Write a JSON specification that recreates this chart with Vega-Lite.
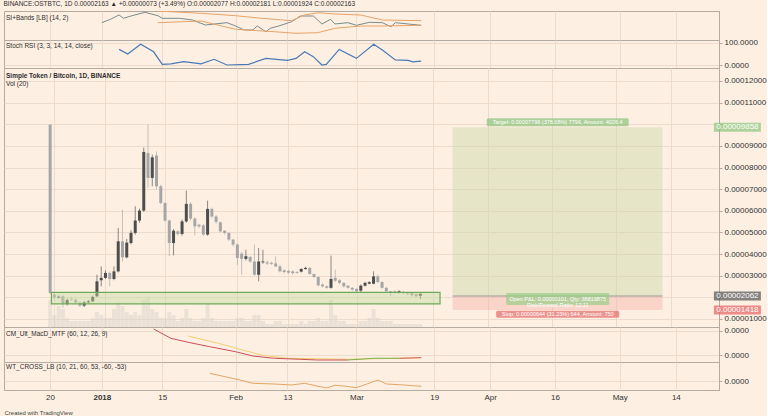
{
  "$schema": "https://vega.github.io/schema/vega-lite/v6.json",
  "background": "#fdf0e3",
  "padding": {"left": 3, "top": 1, "right": 0, "bottom": 0},
  "spacing": 0,
  "bounds": "flush",
  "title": {"text": "BINANCE:OSTBTC, 1D  0.00002163 ▲ +0.00000073 (+3.49%)  O:0.00002077  H:0.00002181  L:0.00001924  C:0.00002163", "offset": 3, "fontSize": 6.5, "anchor": "start", "color": "#2e2e2e"},
  "resolve": {"scale": {"y": "independent", "color": "independent"}},
  "config": {
    "view": {"stroke": "#b4aba3", "strokeWidth": 1},
    "axis": {"gridColor": "#eddccd", "gridWidth": 1, "domainColor": "#b4aba3", "tickColor": "#b4aba3", "labelColor": "#333333", "labelFont": "Liberation Sans", "labelFontSize": 8, "titleFont": "Liberation Sans"},
    "axisY": {"labelOverlap": false, "tickSize": 3, "labelPadding": 2},
    "title": {"font": "Liberation Sans", "fontSize": 6.5, "fontWeight": "normal", "color": "#2e2e2e", "anchor": "start", "subtitleFont": "Liberation Sans", "subtitleFontSize": 6.5, "subtitleColor": "#2e2e2e"},
    "text": {"font": "Liberation Sans"}
  },
  "datasets": {
    "candles": [
      {"date": "2017-12-19", "o": 9.98e-5, "h": 10.0e-5, "l": 2.15e-5, "c": 2.20e-5, "v": 9},
      {"date": "2017-12-20", "o": 2.12e-5, "h": 2.18e-5, "l": 1.92e-5, "c": 1.99e-5, "v": 4},
      {"date": "2017-12-21", "o": 1.99e-5, "h": 2.08e-5, "l": 1.95e-5, "c": 2.03e-5, "v": 7},
      {"date": "2017-12-22", "o": 2.05e-5, "h": 2.10e-5, "l": 1.52e-5, "c": 1.70e-5, "v": 6},
      {"date": "2017-12-23", "o": 1.70e-5, "h": 1.95e-5, "l": 1.62e-5, "c": 1.87e-5, "v": 3},
      {"date": "2017-12-24", "o": 1.94e-5, "h": 2.00e-5, "l": 1.85e-5, "c": 1.90e-5, "v": 2},
      {"date": "2017-12-25", "o": 1.89e-5, "h": 1.95e-5, "l": 1.70e-5, "c": 1.76e-5, "v": 2},
      {"date": "2017-12-26", "o": 1.76e-5, "h": 1.80e-5, "l": 1.55e-5, "c": 1.62e-5, "v": 2},
      {"date": "2017-12-27", "o": 1.62e-5, "h": 1.82e-5, "l": 1.55e-5, "c": 1.77e-5, "v": 2},
      {"date": "2017-12-28", "o": 1.77e-5, "h": 1.88e-5, "l": 1.72e-5, "c": 1.82e-5, "v": 2},
      {"date": "2017-12-29", "o": 1.82e-5, "h": 2.08e-5, "l": 1.78e-5, "c": 2.02e-5, "v": 3},
      {"date": "2017-12-30", "o": 2.05e-5, "h": 3.05e-5, "l": 2.00e-5, "c": 2.74e-5, "v": 5},
      {"date": "2017-12-31", "o": 2.79e-5, "h": 3.43e-5, "l": 2.51e-5, "c": 2.90e-5, "v": 4},
      {"date": "2018-01-01", "o": 2.90e-5, "h": 3.25e-5, "l": 2.85e-5, "c": 3.13e-5, "v": 3},
      {"date": "2018-01-02", "o": 3.13e-5, "h": 3.20e-5, "l": 2.51e-5, "c": 2.85e-5, "v": 3},
      {"date": "2018-01-03", "o": 2.85e-5, "h": 3.43e-5, "l": 2.79e-5, "c": 3.20e-5, "v": 6},
      {"date": "2018-01-04", "o": 3.20e-5, "h": 5.21e-5, "l": 3.15e-5, "c": 4.59e-5, "v": 8},
      {"date": "2018-01-05", "o": 4.59e-5, "h": 6.05e-5, "l": 3.66e-5, "c": 3.85e-5, "v": 7},
      {"date": "2018-01-06", "o": 3.85e-5, "h": 4.70e-5, "l": 3.80e-5, "c": 4.53e-5, "v": 5},
      {"date": "2018-01-07", "o": 4.51e-5, "h": 5.10e-5, "l": 4.45e-5, "c": 4.98e-5, "v": 4},
      {"date": "2018-01-08", "o": 4.98e-5, "h": 6.21e-5, "l": 4.90e-5, "c": 5.55e-5, "v": 5},
      {"date": "2018-01-09", "o": 5.55e-5, "h": 6.10e-5, "l": 5.45e-5, "c": 6.01e-5, "v": 4},
      {"date": "2018-01-10", "o": 6.01e-5, "h": 8.92e-5, "l": 5.95e-5, "c": 8.72e-5, "v": 9},
      {"date": "2018-01-11", "o": 8.67e-5, "h": 9.98e-5, "l": 7.07e-5, "c": 7.52e-5, "v": 10},
      {"date": "2018-01-12", "o": 7.52e-5, "h": 8.60e-5, "l": 7.13e-5, "c": 8.47e-5, "v": 6},
      {"date": "2018-01-13", "o": 8.56e-5, "h": 8.75e-5, "l": 7.00e-5, "c": 7.13e-5, "v": 5},
      {"date": "2018-01-14", "o": 7.13e-5, "h": 7.20e-5, "l": 6.30e-5, "c": 6.36e-5, "v": 3},
      {"date": "2018-01-15", "o": 6.36e-5, "h": 6.40e-5, "l": 5.50e-5, "c": 5.55e-5, "v": 3},
      {"date": "2018-01-16", "o": 5.55e-5, "h": 5.60e-5, "l": 3.90e-5, "c": 4.51e-5, "v": 5},
      {"date": "2018-01-17", "o": 4.51e-5, "h": 5.15e-5, "l": 3.94e-5, "c": 5.08e-5, "v": 4},
      {"date": "2018-01-18", "o": 5.05e-5, "h": 5.10e-5, "l": 4.85e-5, "c": 4.93e-5, "v": 2},
      {"date": "2018-01-19", "o": 4.93e-5, "h": 5.60e-5, "l": 4.85e-5, "c": 5.51e-5, "v": 3},
      {"date": "2018-01-20", "o": 5.51e-5, "h": 6.93e-5, "l": 5.45e-5, "c": 6.32e-5, "v": 6},
      {"date": "2018-01-21", "o": 6.32e-5, "h": 6.40e-5, "l": 5.55e-5, "c": 5.64e-5, "v": 3},
      {"date": "2018-01-22", "o": 5.64e-5, "h": 5.70e-5, "l": 4.87e-5, "c": 5.28e-5, "v": 2},
      {"date": "2018-01-23", "o": 5.36e-5, "h": 5.40e-5, "l": 5.20e-5, "c": 5.28e-5, "v": 2},
      {"date": "2018-01-24", "o": 5.33e-5, "h": 5.40e-5, "l": 4.85e-5, "c": 4.90e-5, "v": 3},
      {"date": "2018-01-25", "o": 4.90e-5, "h": 6.47e-5, "l": 4.85e-5, "c": 6.09e-5, "v": 8},
      {"date": "2018-01-26", "o": 6.09e-5, "h": 6.15e-5, "l": 5.65e-5, "c": 5.74e-5, "v": 3},
      {"date": "2018-01-27", "o": 5.74e-5, "h": 5.80e-5, "l": 5.40e-5, "c": 5.49e-5, "v": 2},
      {"date": "2018-01-28", "o": 5.47e-5, "h": 5.50e-5, "l": 5.00e-5, "c": 5.05e-5, "v": 2},
      {"date": "2018-01-29", "o": 5.08e-5, "h": 5.10e-5, "l": 4.90e-5, "c": 4.98e-5, "v": 2},
      {"date": "2018-01-30", "o": 4.98e-5, "h": 5.00e-5, "l": 4.60e-5, "c": 4.67e-5, "v": 2},
      {"date": "2018-01-31", "o": 4.67e-5, "h": 4.70e-5, "l": 4.35e-5, "c": 4.44e-5, "v": 2},
      {"date": "2018-02-01", "o": 4.44e-5, "h": 4.50e-5, "l": 3.50e-5, "c": 3.82e-5, "v": 3},
      {"date": "2018-02-02", "o": 4.02e-5, "h": 4.10e-5, "l": 3.05e-5, "c": 3.78e-5, "v": 3},
      {"date": "2018-02-03", "o": 3.78e-5, "h": 4.20e-5, "l": 3.70e-5, "c": 3.90e-5, "v": 2},
      {"date": "2018-02-04", "o": 3.87e-5, "h": 3.90e-5, "l": 3.60e-5, "c": 3.66e-5, "v": 2},
      {"date": "2018-02-05", "o": 3.66e-5, "h": 4.44e-5, "l": 3.00e-5, "c": 3.05e-5, "v": 4},
      {"date": "2018-02-06", "o": 3.05e-5, "h": 4.28e-5, "l": 2.74e-5, "c": 3.66e-5, "v": 4},
      {"date": "2018-02-07", "o": 3.62e-5, "h": 4.20e-5, "l": 3.55e-5, "c": 3.66e-5, "v": 2},
      {"date": "2018-02-08", "o": 3.62e-5, "h": 3.70e-5, "l": 3.50e-5, "c": 3.56e-5, "v": 1},
      {"date": "2018-02-09", "o": 3.60e-5, "h": 3.65e-5, "l": 3.50e-5, "c": 3.55e-5, "v": 1},
      {"date": "2018-02-10", "o": 3.57e-5, "h": 3.90e-5, "l": 3.40e-5, "c": 3.43e-5, "v": 2},
      {"date": "2018-02-11", "o": 3.43e-5, "h": 3.50e-5, "l": 3.15e-5, "c": 3.20e-5, "v": 2},
      {"date": "2018-02-12", "o": 3.25e-5, "h": 3.30e-5, "l": 3.10e-5, "c": 3.17e-5, "v": 1},
      {"date": "2018-02-13", "o": 3.22e-5, "h": 3.28e-5, "l": 3.10e-5, "c": 3.14e-5, "v": 1},
      {"date": "2018-02-14", "o": 3.20e-5, "h": 3.25e-5, "l": 3.05e-5, "c": 3.12e-5, "v": 1},
      {"date": "2018-02-15", "o": 3.17e-5, "h": 3.22e-5, "l": 3.10e-5, "c": 3.13e-5, "v": 1},
      {"date": "2018-02-16", "o": 3.19e-5, "h": 3.35e-5, "l": 3.15e-5, "c": 3.31e-5, "v": 2},
      {"date": "2018-02-17", "o": 3.31e-5, "h": 3.42e-5, "l": 3.28e-5, "c": 3.36e-5, "v": 1},
      {"date": "2018-02-18", "o": 3.36e-5, "h": 3.40e-5, "l": 3.05e-5, "c": 3.08e-5, "v": 2},
      {"date": "2018-02-19", "o": 3.08e-5, "h": 3.10e-5, "l": 2.90e-5, "c": 2.94e-5, "v": 2},
      {"date": "2018-02-20", "o": 2.94e-5, "h": 2.97e-5, "l": 2.50e-5, "c": 2.56e-5, "v": 3},
      {"date": "2018-02-21", "o": 2.59e-5, "h": 2.65e-5, "l": 2.45e-5, "c": 2.51e-5, "v": 2},
      {"date": "2018-02-22", "o": 2.51e-5, "h": 2.55e-5, "l": 2.40e-5, "c": 2.44e-5, "v": 2},
      {"date": "2018-02-23", "o": 2.44e-5, "h": 3.93e-5, "l": 2.40e-5, "c": 2.85e-5, "v": 9},
      {"date": "2018-02-24", "o": 2.90e-5, "h": 3.28e-5, "l": 2.70e-5, "c": 2.77e-5, "v": 4},
      {"date": "2018-02-25", "o": 2.79e-5, "h": 2.85e-5, "l": 2.60e-5, "c": 2.67e-5, "v": 2},
      {"date": "2018-02-26", "o": 2.67e-5, "h": 2.70e-5, "l": 2.45e-5, "c": 2.51e-5, "v": 2},
      {"date": "2018-02-27", "o": 2.54e-5, "h": 2.58e-5, "l": 2.40e-5, "c": 2.44e-5, "v": 1},
      {"date": "2018-02-28", "o": 2.44e-5, "h": 2.48e-5, "l": 2.30e-5, "c": 2.36e-5, "v": 1},
      {"date": "2018-03-01", "o": 2.39e-5, "h": 2.42e-5, "l": 2.22e-5, "c": 2.28e-5, "v": 1},
      {"date": "2018-03-02", "o": 2.31e-5, "h": 2.60e-5, "l": 2.25e-5, "c": 2.54e-5, "v": 2},
      {"date": "2018-03-03", "o": 2.54e-5, "h": 2.72e-5, "l": 2.50e-5, "c": 2.67e-5, "v": 2},
      {"date": "2018-03-04", "o": 2.63e-5, "h": 2.75e-5, "l": 2.60e-5, "c": 2.70e-5, "v": 3},
      {"date": "2018-03-05", "o": 2.63e-5, "h": 3.20e-5, "l": 2.60e-5, "c": 2.97e-5, "v": 6},
      {"date": "2018-03-06", "o": 2.97e-5, "h": 3.05e-5, "l": 2.65e-5, "c": 2.71e-5, "v": 3},
      {"date": "2018-03-07", "o": 2.71e-5, "h": 2.75e-5, "l": 2.40e-5, "c": 2.44e-5, "v": 2},
      {"date": "2018-03-08", "o": 2.44e-5, "h": 2.48e-5, "l": 2.20e-5, "c": 2.28e-5, "v": 2},
      {"date": "2018-03-09", "o": 2.28e-5, "h": 2.30e-5, "l": 2.05e-5, "c": 2.23e-5, "v": 2},
      {"date": "2018-03-10", "o": 2.28e-5, "h": 2.32e-5, "l": 2.18e-5, "c": 2.23e-5, "v": 1},
      {"date": "2018-03-11", "o": 2.23e-5, "h": 2.33e-5, "l": 2.18e-5, "c": 2.28e-5, "v": 1},
      {"date": "2018-03-12", "o": 2.25e-5, "h": 2.30e-5, "l": 2.15e-5, "c": 2.20e-5, "v": 1},
      {"date": "2018-03-13", "o": 2.22e-5, "h": 2.26e-5, "l": 2.10e-5, "c": 2.17e-5, "v": 1},
      {"date": "2018-03-14", "o": 2.20e-5, "h": 2.24e-5, "l": 2.04e-5, "c": 2.09e-5, "v": 1},
      {"date": "2018-03-15", "o": 2.16e-5, "h": 2.18e-5, "l": 1.98e-5, "c": 2.05e-5, "v": 1},
      {"date": "2018-03-16", "o": 2.077e-5, "h": 2.181e-5, "l": 1.924e-5, "c": 2.163e-5, "v": 1}
    ],
    "si": [
      {"date": "2018-01-01", "s": "si", "v": 59.7}, {"date": "2018-01-03", "s": "si", "v": 71.4}, {"date": "2018-01-05", "s": "si", "v": 86.2},
      {"date": "2018-01-06", "s": "si", "v": 74.8}, {"date": "2018-01-08", "s": "si", "v": 83.8}, {"date": "2018-01-11", "s": "si", "v": 95.5},
      {"date": "2018-01-14", "s": "si", "v": 83.8}, {"date": "2018-01-15", "s": "si", "v": 74.8}, {"date": "2018-01-19", "s": "si", "v": 74.8},
      {"date": "2018-01-22", "s": "si", "v": 69}, {"date": "2018-01-25", "s": "si", "v": 51.7}, {"date": "2018-01-30", "s": "si", "v": 59.7},
      {"date": "2018-02-01", "s": "si", "v": 48.3}, {"date": "2018-02-03", "s": "si", "v": 34.5}, {"date": "2018-02-05", "s": "si", "v": 34.5},
      {"date": "2018-02-06", "s": "si", "v": 48.3}, {"date": "2018-02-08", "s": "si", "v": 28.6}, {"date": "2018-02-09", "s": "si", "v": 40.3},
      {"date": "2018-02-11", "s": "si", "v": 48.3}, {"date": "2018-02-14", "s": "si", "v": 63.1}, {"date": "2018-02-16", "s": "si", "v": 82.8},
      {"date": "2018-02-19", "s": "si", "v": 82.8}, {"date": "2018-02-21", "s": "si", "v": 55.2}, {"date": "2018-02-23", "s": "si", "v": 71.4},
      {"date": "2018-02-24", "s": "si", "v": 55.2}, {"date": "2018-02-27", "s": "si", "v": 59.7}, {"date": "2018-03-01", "s": "si", "v": 50.7},
      {"date": "2018-03-04", "s": "si", "v": 61}, {"date": "2018-03-07", "s": "si", "v": 59.7}, {"date": "2018-03-09", "s": "si", "v": 45.9},
      {"date": "2018-03-10", "s": "si", "v": 59.7}, {"date": "2018-03-13", "s": "si", "v": 55.2}, {"date": "2018-03-16", "s": "si", "v": 50.7},
      {"date": "2018-01-14", "s": "upper", "v": 100}, {"date": "2018-01-24", "s": "upper", "v": 92}, {"date": "2018-02-01", "s": "upper", "v": 83.8},
      {"date": "2018-02-07", "s": "upper", "v": 74.8}, {"date": "2018-02-14", "s": "upper", "v": 66.6}, {"date": "2018-02-17", "s": "upper", "v": 86.2},
      {"date": "2018-02-20", "s": "upper", "v": 94.1}, {"date": "2018-02-24", "s": "upper", "v": 89.7}, {"date": "2018-03-02", "s": "upper", "v": 86.2},
      {"date": "2018-03-07", "s": "upper", "v": 69}, {"date": "2018-03-16", "s": "upper", "v": 66.6},
      {"date": "2018-01-14", "s": "lower", "v": 59.7}, {"date": "2018-01-24", "s": "lower", "v": 65.5}, {"date": "2018-02-01", "s": "lower", "v": 36.9},
      {"date": "2018-02-10", "s": "lower", "v": 28.6}, {"date": "2018-02-15", "s": "lower", "v": 23.1}, {"date": "2018-02-20", "s": "lower", "v": 25.2},
      {"date": "2018-02-24", "s": "lower", "v": 40.3}, {"date": "2018-03-02", "s": "lower", "v": 48.3}, {"date": "2018-03-07", "s": "lower", "v": 48.3},
      {"date": "2018-03-16", "s": "lower", "v": 50.7}
    ],
    "stoch": [
      {"date": "2018-01-05", "v": 71}, {"date": "2018-01-07", "v": 50}, {"date": "2018-01-10", "v": 94}, {"date": "2018-01-13", "v": 60},
      {"date": "2018-01-15", "v": 3}, {"date": "2018-01-17", "v": 5}, {"date": "2018-01-20", "v": 15}, {"date": "2018-01-24", "v": 5},
      {"date": "2018-01-27", "v": 26}, {"date": "2018-01-30", "v": 0}, {"date": "2018-02-04", "v": 3}, {"date": "2018-02-08", "v": 30},
      {"date": "2018-02-13", "v": 21}, {"date": "2018-02-15", "v": 30}, {"date": "2018-02-17", "v": 60}, {"date": "2018-02-19", "v": 38},
      {"date": "2018-02-21", "v": 0}, {"date": "2018-02-22", "v": 3}, {"date": "2018-02-25", "v": 71}, {"date": "2018-03-01", "v": 30},
      {"date": "2018-03-05", "v": 94}, {"date": "2018-03-07", "v": 68}, {"date": "2018-03-10", "v": 23}, {"date": "2018-03-13", "v": 21},
      {"date": "2018-03-14", "v": 14}, {"date": "2018-03-16", "v": 18}
    ],
    "macd": [
      {"date": "2018-01-21", "s": "signal", "v": 74.3}, {"date": "2018-01-28", "s": "signal", "v": 53.4}, {"date": "2018-02-02", "s": "signal", "v": 36.3},
      {"date": "2018-02-07", "s": "signal", "v": 20}, {"date": "2018-02-13", "s": "signal", "v": 10.6}, {"date": "2018-02-20", "s": "signal", "v": 9.4},
      {"date": "2018-02-27", "s": "signal", "v": 7.7}, {"date": "2018-03-16", "s": "signal", "v": 12.3},
      {"date": "2018-01-13", "s": "macd1", "v": 94.3}, {"date": "2018-01-17", "s": "macd1", "v": 67.7}, {"date": "2018-01-21", "s": "macd1", "v": 56.3},
      {"date": "2018-01-26", "s": "macd1", "v": 43.7}, {"date": "2018-02-01", "s": "macd1", "v": 29.4}, {"date": "2018-02-05", "s": "macd1", "v": 17.1},
      {"date": "2018-02-10", "s": "macd1", "v": 10.6}, {"date": "2018-02-16", "s": "macd1", "v": 7.7}, {"date": "2018-02-20", "s": "macd1", "v": 5.7},
      {"date": "2018-02-27", "s": "macd1", "v": 5.7},
      {"date": "2018-02-27", "s": "macdUp", "v": 5.7}, {"date": "2018-03-05", "s": "macdUp", "v": 10.6}, {"date": "2018-03-11", "s": "macdUp", "v": 10.6},
      {"date": "2018-03-11", "s": "macd2", "v": 10.6}, {"date": "2018-03-16", "s": "macd2", "v": 12.3}
    ],
    "wt": [
      {"date": "2018-01-26", "v": 59.6}, {"date": "2018-02-02", "v": 35.7}, {"date": "2018-02-05", "v": 23.9}, {"date": "2018-02-10", "v": 21.4},
      {"date": "2018-02-14", "v": 17.9}, {"date": "2018-02-17", "v": 23.9}, {"date": "2018-02-22", "v": 7.1}, {"date": "2018-02-24", "v": 16.8},
      {"date": "2018-02-26", "v": 14.3}, {"date": "2018-03-01", "v": 8.2}, {"date": "2018-03-06", "v": 35.7}, {"date": "2018-03-08", "v": 21.4},
      {"date": "2018-03-12", "v": 17.9}, {"date": "2018-03-16", "v": 13.2}
    ],
    "tool": [
      {"start": "2018-03-23T14:00:00Z", "end": "2018-05-11T22:00:00Z", "entry": 2.062e-5, "target": 9.858e-5, "stop": 1.418e-5}
    ],
    "box": [
      {"start": "2017-12-19T07:00:00Z", "end": "2018-03-20T15:00:00Z", "top": 2.23e-5, "bottom": 1.70e-5}
    ],
    "plabels": [
      {"price": 9.858e-5, "label": "0.00009858", "k": "t"},
      {"price": 2.062e-5, "label": "0.00002062", "k": "e"},
      {"price": 1.418e-5, "label": "0.00001418", "k": "s"}
    ]
  },
  "vconcat": [
    {
      "width": 715, "height": 29,
      "title": {"text": "SI+Bands [LB] (14, 2)", "offset": -10, "frame": "group", "dx": 2},
      "data": {"name": "si"},
      "mark": {"type": "line", "strokeWidth": 1, "clip": true},
      "encoding": {
        "x": {"field": "date", "type": "temporal",
              "scale": {"type": "utc", "domain": [{"year": 2017, "month": 12, "date": 9, "hours": 8, "utc": true}, {"year": 2018, "month": 5, "date": 24, "utc": true}]},
              "axis": {"values": [{"year": 2017, "month": 12, "date": 20, "utc": true}, {"year": 2018, "month": 1, "date": 1, "utc": true}, {"year": 2018, "month": 1, "date": 15, "utc": true}, {"year": 2018, "month": 2, "date": 1, "utc": true}, {"year": 2018, "month": 2, "date": 13, "utc": true}, {"year": 2018, "month": 3, "date": 1, "utc": true}, {"year": 2018, "month": 3, "date": 19, "utc": true}, {"year": 2018, "month": 4, "date": 1, "utc": true}, {"year": 2018, "month": 4, "date": 16, "utc": true}, {"year": 2018, "month": 5, "date": 1, "utc": true}, {"year": 2018, "month": 5, "date": 14, "utc": true}], "tickCount": 20, "labels": false, "ticks": false, "domain": false, "title": null, "grid": true}},
        "y": {"field": "v", "type": "quantitative", "scale": {"domain": [0, 100], "nice": false, "zero": false},
              "axis": {"orient": "right", "labels": false, "ticks": false, "grid": false, "title": null}},
        "color": {"field": "s", "type": "nominal", "scale": {"domain": ["si", "upper", "lower"], "range": ["#7c8a8c", "#e8a368", "#e8a368"]}, "legend": null}
      }
    },
    {
      "width": 715, "height": 28,
      "title": {"text": "Stoch RSI (3, 3, 14, 14, close)", "offset": -11, "frame": "group", "dx": 2},
      "data": {"name": "stoch"},
      "mark": {"type": "line", "strokeWidth": 1.2, "color": "#4a78b5", "clip": true},
      "encoding": {
        "x": {"field": "date", "type": "temporal",
              "scale": {"type": "utc", "domain": [{"year": 2017, "month": 12, "date": 9, "hours": 8, "utc": true}, {"year": 2018, "month": 5, "date": 24, "utc": true}]},
              "axis": {"values": [{"year": 2017, "month": 12, "date": 20, "utc": true}, {"year": 2018, "month": 1, "date": 1, "utc": true}, {"year": 2018, "month": 1, "date": 15, "utc": true}, {"year": 2018, "month": 2, "date": 1, "utc": true}, {"year": 2018, "month": 2, "date": 13, "utc": true}, {"year": 2018, "month": 3, "date": 1, "utc": true}, {"year": 2018, "month": 3, "date": 19, "utc": true}, {"year": 2018, "month": 4, "date": 1, "utc": true}, {"year": 2018, "month": 4, "date": 16, "utc": true}, {"year": 2018, "month": 5, "date": 1, "utc": true}, {"year": 2018, "month": 5, "date": 14, "utc": true}], "tickCount": 20, "labels": false, "ticks": false, "domain": false, "title": null, "grid": true}},
        "y": {"field": "v", "type": "quantitative", "scale": {"domain": [-13.6, 113.6], "nice": false, "zero": false},
              "axis": {"orient": "right", "values": [0, 100], "tickCount": 10, "format": ".4f", "title": null, "grid": true}}
      }
    },
    {
      "width": 715, "height": 259,
      "title": {"text": "Simple Token / Bitcoin, 1D, BINANCE", "subtitle": "Vol (20)", "fontWeight": "bold", "subtitlePadding": 1.5, "offset": -19, "frame": "group", "dx": 2},
      "layer": [
        {
          "data": {"name": "candles"},
          "mark": {"type": "bar", "size": 4, "color": "#ddd5cd", "opacity": 0.55},
          "encoding": {
            "x": {"field": "date", "type": "temporal",
                  "scale": {"type": "utc", "domain": [{"year": 2017, "month": 12, "date": 9, "hours": 8, "utc": true}, {"year": 2018, "month": 5, "date": 24, "utc": true}]},
                  "axis": {"values": [{"year": 2017, "month": 12, "date": 20, "utc": true}, {"year": 2018, "month": 1, "date": 1, "utc": true}, {"year": 2018, "month": 1, "date": 15, "utc": true}, {"year": 2018, "month": 2, "date": 1, "utc": true}, {"year": 2018, "month": 2, "date": 13, "utc": true}, {"year": 2018, "month": 3, "date": 1, "utc": true}, {"year": 2018, "month": 3, "date": 19, "utc": true}, {"year": 2018, "month": 4, "date": 1, "utc": true}, {"year": 2018, "month": 4, "date": 16, "utc": true}, {"year": 2018, "month": 5, "date": 1, "utc": true}, {"year": 2018, "month": 5, "date": 14, "utc": true}], "tickCount": 20, "labels": false, "ticks": false, "domain": false, "title": null, "grid": true}},
            "y": {"field": "v", "type": "quantitative", "scale": {"domain": [0, 86], "nice": false}, "axis": null}
          }
        },
        {
          "layer": [
            {
              "data": {"name": "tool"},
              "mark": {"type": "rect", "color": "#c9d8a6", "opacity": 0.45},
              "encoding": {
                "x": {"field": "start", "type": "temporal"}, "x2": {"field": "end"},
                "y": {"field": "target", "type": "quantitative", "scale": {"domain": [0.0000063, 0.000126], "nice": false, "zero": false},
                      "axis": {"orient": "right", "values": [0.00001, 0.00002, 0.00003, 0.00004, 0.00005, 0.00006, 0.00007, 0.00008, 0.00009, 0.0001, 0.00011, 0.00012], "tickCount": 30,
                               "labelExpr": "abs(datum.value - 0.0001) < 1e-9 || abs(datum.value - 0.00002) < 1e-9 ? '' : format(datum.value, '.8f')", "title": null, "grid": true}},
                "y2": {"field": "entry"}
              }
            },
            {
              "data": {"name": "tool"},
              "mark": {"type": "rect", "color": "#f2a9a0", "opacity": 0.4},
              "encoding": {
                "x": {"field": "start", "type": "temporal"}, "x2": {"field": "end"},
                "y": {"field": "entry", "type": "quantitative"}, "y2": {"field": "stop"}
              }
            },
            {
              "data": {"name": "tool"},
              "mark": {"type": "rule", "color": "#9a9a9a", "strokeWidth": 1},
              "encoding": {
                "x": {"field": "start", "type": "temporal"}, "x2": {"field": "end"},
                "y": {"field": "entry", "type": "quantitative"}
              }
            },
            {
              "data": {"name": "candles"},
              "mark": {"type": "rule", "strokeWidth": 1, "opacity": 0.7},
              "encoding": {
                "x": {"field": "date", "type": "temporal"},
                "y": {"field": "l", "type": "quantitative"}, "y2": {"field": "h"},
                "color": {"condition": {"test": "datum.c >= datum.o", "value": "#5a5a5a"}, "value": "#ababab"}
              }
            },
            {
              "data": {"name": "candles"},
              "mark": {"type": "bar", "size": 3},
              "encoding": {
                "x": {"field": "date", "type": "temporal"},
                "y": {"field": "o", "type": "quantitative"}, "y2": {"field": "c"},
                "color": {"condition": {"test": "datum.c >= datum.o", "value": "#4d4d4d"}, "value": "#a6a6a6"}
              }
            },
            {
              "data": {"name": "box"},
              "mark": {"type": "rect", "fill": "#c4dba0", "fillOpacity": 0.45, "stroke": "#6ea85a", "strokeWidth": 1.2},
              "encoding": {
                "x": {"field": "start", "type": "temporal"}, "x2": {"field": "end"},
                "y": {"field": "top", "type": "quantitative"}, "y2": {"field": "bottom"}
              }
            },
            {
              "data": {"name": "plabels"},
              "mark": {"type": "tick", "orient": "horizontal", "thickness": 9},
              "encoding": {
                "x": {"datum": {"year": 2018, "month": 5, "date": 29, "hours": 12, "utc": true}, "type": "temporal"},
                "y": {"field": "price", "type": "quantitative"},
                "size": {"value": 47},
                "color": {"field": "k", "type": "nominal", "scale": {"domain": ["t", "e", "s"], "range": ["#8cc47a", "#505050", "#e46060"]}, "legend": null}
              }
            },
            {
              "data": {"name": "plabels"},
              "mark": {"type": "text", "color": "#ffffff", "fontSize": 8, "align": "center", "baseline": "middle"},
              "encoding": {
                "x": {"datum": {"year": 2018, "month": 5, "date": 29, "hours": 12, "utc": true}, "type": "temporal"},
                "y": {"field": "price", "type": "quantitative"},
                "text": {"field": "label"}
              }
            },
            {
              "data": {"values": [{"price": 9.858e-5, "label": "Target: 0.00007796 (378.08%) 7796, Amount: 4026.4"}]},
              "mark": {"type": "tick", "orient": "horizontal", "thickness": 8, "color": "#8bc27a", "yOffset": -5, "cornerRadius": 1.5},
              "encoding": {
                "x": {"datum": {"year": 2018, "month": 4, "date": 17, "hours": 6, "minutes": 30, "utc": true}, "type": "temporal"},
                "y": {"field": "price", "type": "quantitative"},
                "size": {"value": 142}
              }
            },
            {
              "data": {"values": [{"price": 9.858e-5, "label": "Target: 0.00007796 (378.08%) 7796, Amount: 4026.4"}]},
              "mark": {"type": "text", "color": "#ffffff", "fontSize": 5.5, "align": "center", "baseline": "middle", "yOffset": -5},
              "encoding": {
                "x": {"datum": {"year": 2018, "month": 4, "date": 17, "hours": 6, "minutes": 30, "utc": true}, "type": "temporal"},
                "y": {"field": "price", "type": "quantitative"},
                "text": {"field": "label"}
              }
            },
            {
              "data": {"values": [{"price": 2.062e-5, "label": "Open P&L: 0.00000101, Qty: 38819875\nRisk/Reward Ratio: 12.11"}]},
              "mark": {"type": "tick", "orient": "horizontal", "thickness": 12, "color": "#9acd88", "yOffset": 3, "cornerRadius": 1.5},
              "encoding": {
                "x": {"datum": {"year": 2018, "month": 4, "date": 17, "hours": 6, "minutes": 30, "utc": true}, "type": "temporal"},
                "y": {"field": "price", "type": "quantitative"},
                "size": {"value": 103}
              }
            },
            {
              "data": {"values": [{"price": 2.062e-5, "label": "Open P&L: 0.00000101, Qty: 38819875\nRisk/Reward Ratio: 12.11"}]},
              "mark": {"type": "text", "color": "#ffffff", "fontSize": 5.5, "lineHeight": 5.5, "lineBreak": "\n", "align": "center", "baseline": "middle", "yOffset": 3},
              "encoding": {
                "x": {"datum": {"year": 2018, "month": 4, "date": 17, "hours": 6, "minutes": 30, "utc": true}, "type": "temporal"},
                "y": {"field": "price", "type": "quantitative"},
                "text": {"field": "label"}
              }
            },
            {
              "data": {"values": [{"price": 1.418e-5, "label": "Stop: 0.00000644 (31.23%) 644, Amount: 750"}]},
              "mark": {"type": "tick", "orient": "horizontal", "thickness": 7, "color": "#e26a6a", "yOffset": 4.3, "cornerRadius": 1.5},
              "encoding": {
                "x": {"datum": {"year": 2018, "month": 4, "date": 17, "hours": 6, "minutes": 30, "utc": true}, "type": "temporal"},
                "y": {"field": "price", "type": "quantitative"},
                "size": {"value": 123}
              }
            },
            {
              "data": {"values": [{"price": 1.418e-5, "label": "Stop: 0.00000644 (31.23%) 644, Amount: 750"}]},
              "mark": {"type": "text", "color": "#ffffff", "fontSize": 5.5, "align": "center", "baseline": "middle", "yOffset": 4.3},
              "encoding": {
                "x": {"datum": {"year": 2018, "month": 4, "date": 17, "hours": 6, "minutes": 30, "utc": true}, "type": "temporal"},
                "y": {"field": "price", "type": "quantitative"},
                "text": {"field": "label"}
              }
            }
          ]
        }
      ],
      "resolve": {"scale": {"y": "independent", "color": "independent"}}
    },
    {
      "width": 715, "height": 35,
      "title": {"text": "CM_Ult_MacD_MTF (60, 12, 26, 9)", "offset": -11, "frame": "group", "dx": 2},
      "data": {"name": "macd"},
      "mark": {"type": "line", "strokeWidth": 1, "clip": true},
      "encoding": {
        "x": {"field": "date", "type": "temporal",
              "scale": {"type": "utc", "domain": [{"year": 2017, "month": 12, "date": 9, "hours": 8, "utc": true}, {"year": 2018, "month": 5, "date": 24, "utc": true}]},
              "axis": {"values": [{"year": 2017, "month": 12, "date": 20, "utc": true}, {"year": 2018, "month": 1, "date": 1, "utc": true}, {"year": 2018, "month": 1, "date": 15, "utc": true}, {"year": 2018, "month": 2, "date": 1, "utc": true}, {"year": 2018, "month": 2, "date": 13, "utc": true}, {"year": 2018, "month": 3, "date": 1, "utc": true}, {"year": 2018, "month": 3, "date": 19, "utc": true}, {"year": 2018, "month": 4, "date": 1, "utc": true}, {"year": 2018, "month": 4, "date": 16, "utc": true}, {"year": 2018, "month": 5, "date": 1, "utc": true}, {"year": 2018, "month": 5, "date": 14, "utc": true}], "tickCount": 20, "labels": false, "ticks": false, "domain": false, "title": null, "grid": true}},
        "y": {"field": "v", "type": "quantitative", "scale": {"domain": [0, 100], "nice": false, "zero": false},
              "axis": {"orient": "right", "values": [88.6, 20], "tickCount": 10, "labelExpr": "'0.0000'", "title": null, "grid": true}},
        "color": {"field": "s", "type": "nominal", "scale": {"domain": ["signal", "macd1", "macdUp", "macd2"], "range": ["#f2cf72", "#c9505a", "#7bb24f", "#d0605a"]}, "legend": null}
      }
    },
    {
      "width": 715, "height": 28,
      "title": {"text": "WT_CROSS_LB (10, 21, 60, 53, -60, -53)", "offset": -8, "frame": "group", "dx": 2},
      "data": {"name": "wt"},
      "mark": {"type": "line", "strokeWidth": 1, "color": "#e3a565", "clip": true},
      "encoding": {
        "x": {"field": "date", "type": "temporal",
              "scale": {"type": "utc", "domain": [{"year": 2017, "month": 12, "date": 9, "hours": 8, "utc": true}, {"year": 2018, "month": 5, "date": 24, "utc": true}]},
              "axis": {"values": [{"year": 2017, "month": 12, "date": 20, "utc": true}, {"year": 2018, "month": 1, "date": 1, "utc": true}, {"year": 2018, "month": 1, "date": 15, "utc": true}, {"year": 2018, "month": 2, "date": 1, "utc": true}, {"year": 2018, "month": 2, "date": 13, "utc": true}, {"year": 2018, "month": 3, "date": 1, "utc": true}, {"year": 2018, "month": 3, "date": 19, "utc": true}, {"year": 2018, "month": 4, "date": 1, "utc": true}, {"year": 2018, "month": 4, "date": 16, "utc": true}, {"year": 2018, "month": 5, "date": 1, "utc": true}, {"year": 2018, "month": 5, "date": 14, "utc": true}], "tickCount": 20,
                       "grid": true, "ticks": false, "domain": false, "labelFlush": false, "labelOverlap": false, "labelPadding": 3,
                       "labelExpr": "utcdate(datum.value) == 1 && utcmonth(datum.value) == 0 ? '2018' : (utcdate(datum.value) == 1 ? utcFormat(datum.value, '%b') : '' + utcdate(datum.value))",
                       "labelFontWeight": {"condition": {"test": "utcdate(datum.value) == 1 && utcmonth(datum.value) == 0", "value": "bold"}, "value": "normal"},
                       "title": "Created with  TradingView", "titleAnchor": "start", "titleAlign": "left", "titleFontSize": 6, "titleFontWeight": "normal", "titleColor": "#444444", "titlePadding": 8}},
        "y": {"field": "v", "type": "quantitative", "scale": {"domain": [0, 100], "nice": false, "zero": false},
              "axis": {"orient": "right", "values": [32.1], "tickCount": 10, "labelExpr": "'0.0000'", "title": null, "grid": true}}
      }
    }
  ]
}
